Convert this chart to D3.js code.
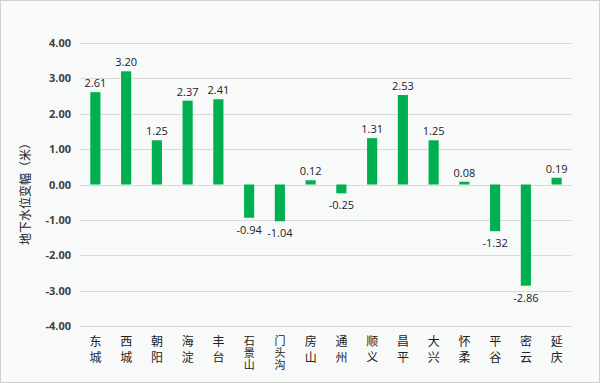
<!DOCTYPE html>
<html><head><meta charset="utf-8">
<script src="https://cdn.jsdelivr.net/npm/d3@7"></script>
<style>html,body{margin:0;padding:0;background:#fff;}svg{display:block;}</style>
</head><body>
<svg id="c" width="600" height="383"></svg>
<script>
const categories = ["东城","西城","朝阳","海淀","丰台","石景山","门头沟","房山","通州","顺义","昌平","大兴","怀柔","平谷","密云","延庆"];
const values = [2.61,3.20,1.25,2.37,2.41,-0.94,-1.04,0.12,-0.25,1.31,2.53,1.25,0.08,-1.32,-2.86,0.19];
const yTicks = [4,3,2,1,0,-1,-2,-3,-4];
const yTitle = "地下水位变幅（米）";

const fmt = d => d3.format(".2f")(d).replace("\u2212","-");

const svg = d3.select("#c");
svg.append("rect").attr("x",0.5).attr("y",0.5).attr("width",599).attr("height",382)
  .attr("fill","#f8f9f9").attr("stroke","#d0d0d0");

const x = d3.scaleBand().domain(categories).range([80,572]).paddingInner(0.67).paddingOuter(0.335);
const y = d3.scaleLinear().domain([-4,4]).range([326,43]);

// gridlines
svg.append("g").selectAll("line").data(yTicks).join("line")
  .attr("x1",80).attr("x2",572)
  .attr("y1",d=>Math.round(y(d))+0.5).attr("y2",d=>Math.round(y(d))+0.5)
  .attr("stroke","#d9d9d9").attr("stroke-width",1);

// y axis labels
const ya = svg.append("g").attr("transform","translate(80,0)")
  .call(d3.axisLeft(y).tickValues(yTicks).tickFormat(fmt).tickSize(0).tickPadding(9));
ya.select(".domain").remove();
ya.selectAll("text").attr("font-family","'Open Sans', 'DejaVu Sans', sans-serif")
  .attr("font-size","11px").attr("font-weight","bold").attr("fill","#404040");

// bars
svg.append("g").selectAll("rect").data(values).join("rect")
  .attr("x",(d,i)=>x(categories[i]))
  .attr("width",x.bandwidth())
  .attr("y",d=>y(Math.max(0,d)))
  .attr("height",d=>Math.abs(y(d)-y(0)))
  .attr("fill","#00b050");

// data labels
svg.append("g").selectAll("text").data(values).join("text")
  .attr("x",(d,i)=>x(categories[i])+x.bandwidth()/2)
  .attr("y",d=> d>=0 ? y(d)-5 : y(d)+16)
  .attr("text-anchor","middle")
  .attr("font-family","'Open Sans', 'DejaVu Sans', sans-serif")
  .attr("font-size","11px").attr("fill","#222")
  .text(fmt);

// category labels (vertical)
svg.append("g").selectAll("text").data(categories).join("text")
  .attr("x",c=>x(c)+x.bandwidth()/2)
  .attr("y",335)
  .attr("writing-mode","vertical-rl")
  .attr("text-anchor","start")
  .attr("font-family","'Noto Sans CJK SC', sans-serif")
  .attr("font-size",c=>Array.from(c).length>2 ? "11px" : "12px")
  .attr("letter-spacing",c=>Array.from(c).length>2 ? "1px" : "4.5px")
  .attr("fill","#222")
  .text(c=>c);

// y title
svg.append("text").attr("transform","translate(30,191) rotate(-90)")
  .attr("text-anchor","middle").attr("font-family","'Noto Sans CJK SC', sans-serif")
  .attr("font-size","12px").attr("fill","#222").text(yTitle);
</script>
</body></html>
